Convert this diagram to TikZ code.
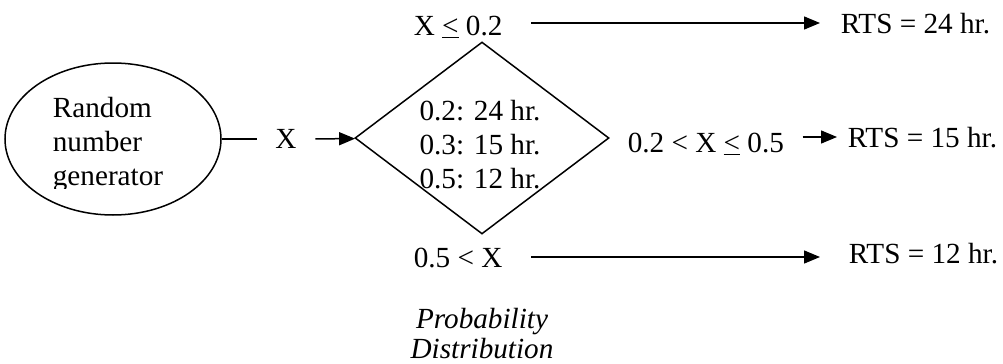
\documentclass[tikz,border=0pt]{standalone}
\usepackage{fontspec}
\setmainfont{Liberation Serif}
\usetikzlibrary{positioning,arrows.meta,shapes.geometric}

\begin{document}
\begin{tikzpicture}[
  x=0.5pt, y=-0.5pt,
  font=\fontsize{14.6}{17}\selectfont,
  line width=0.75pt,
  gen/.style={ellipse, draw, minimum width=108pt, minimum height=76pt, inner sep=0pt},
  decision/.style={diamond, draw, minimum width=127pt, minimum height=96pt, inner sep=0pt},
  txt/.style={inner sep=0pt, align=center},
  cond/.style={inner sep=0pt, anchor=base west},
  arrow/.style={-{Triangle[length=8pt, width=6.5pt]}},
  note/.style={txt, font=\fontsize{14.6}{15}\selectfont\itshape}
]
\useasboundingbox (0,0) rectangle (1003,364);

% Generator
\node[gen] (rng) at (113,139) {};
\begin{scope}
  \clip (0,0) rectangle (1003,188);
  \node[txt, align=left] (rngtext) at (108,145) {Random\\number\\generator};
\end{scope}
\node[inner xsep=9pt, inner ysep=0pt] (xin) at (286,139) {X};

% Probability distribution
\node[decision] (dist) at (482,138) {};
\node[txt] (disttext) at (480,145) {0.2: 24 hr.\\0.3: 15 hr.\\0.5: 12 hr.};
\node[note] (prob) at (482,334) {Probability\\Distribution};

% Conditions and results
\node[cond] (ctop) at (413,35) {X \underline{<} 0.2};
\node[cond] (cmid) at (627,152) {0.2 < X \underline{<} 0.5};
\node[cond] (cbot) at (413,267) {0.5 < X};
\node[cond] (rtop) at (840,33) {RTS = 24 hr.};
\node[cond] (rmid) at (847,148) {RTS = 15 hr.};
\node[cond] (rbot) at (848,263) {RTS = 12 hr.};

% Arrows
\draw (rng) -- (xin);
\draw[arrow] (xin) -- (dist);
\draw[arrow] ([shift={(28,-12)}]ctop.base east) -- ([shift={(-20,-10)}]rtop.base west);
\draw[arrow] ([shift={(18,-15)}]cmid.base east) -- ([shift={(-10,-11)}]rmid.base west);
\draw[arrow] ([shift={(28,-10)}]cbot.base east) -- ([shift={(-28,-6)}]rbot.base west);

\end{tikzpicture}
\end{document}
